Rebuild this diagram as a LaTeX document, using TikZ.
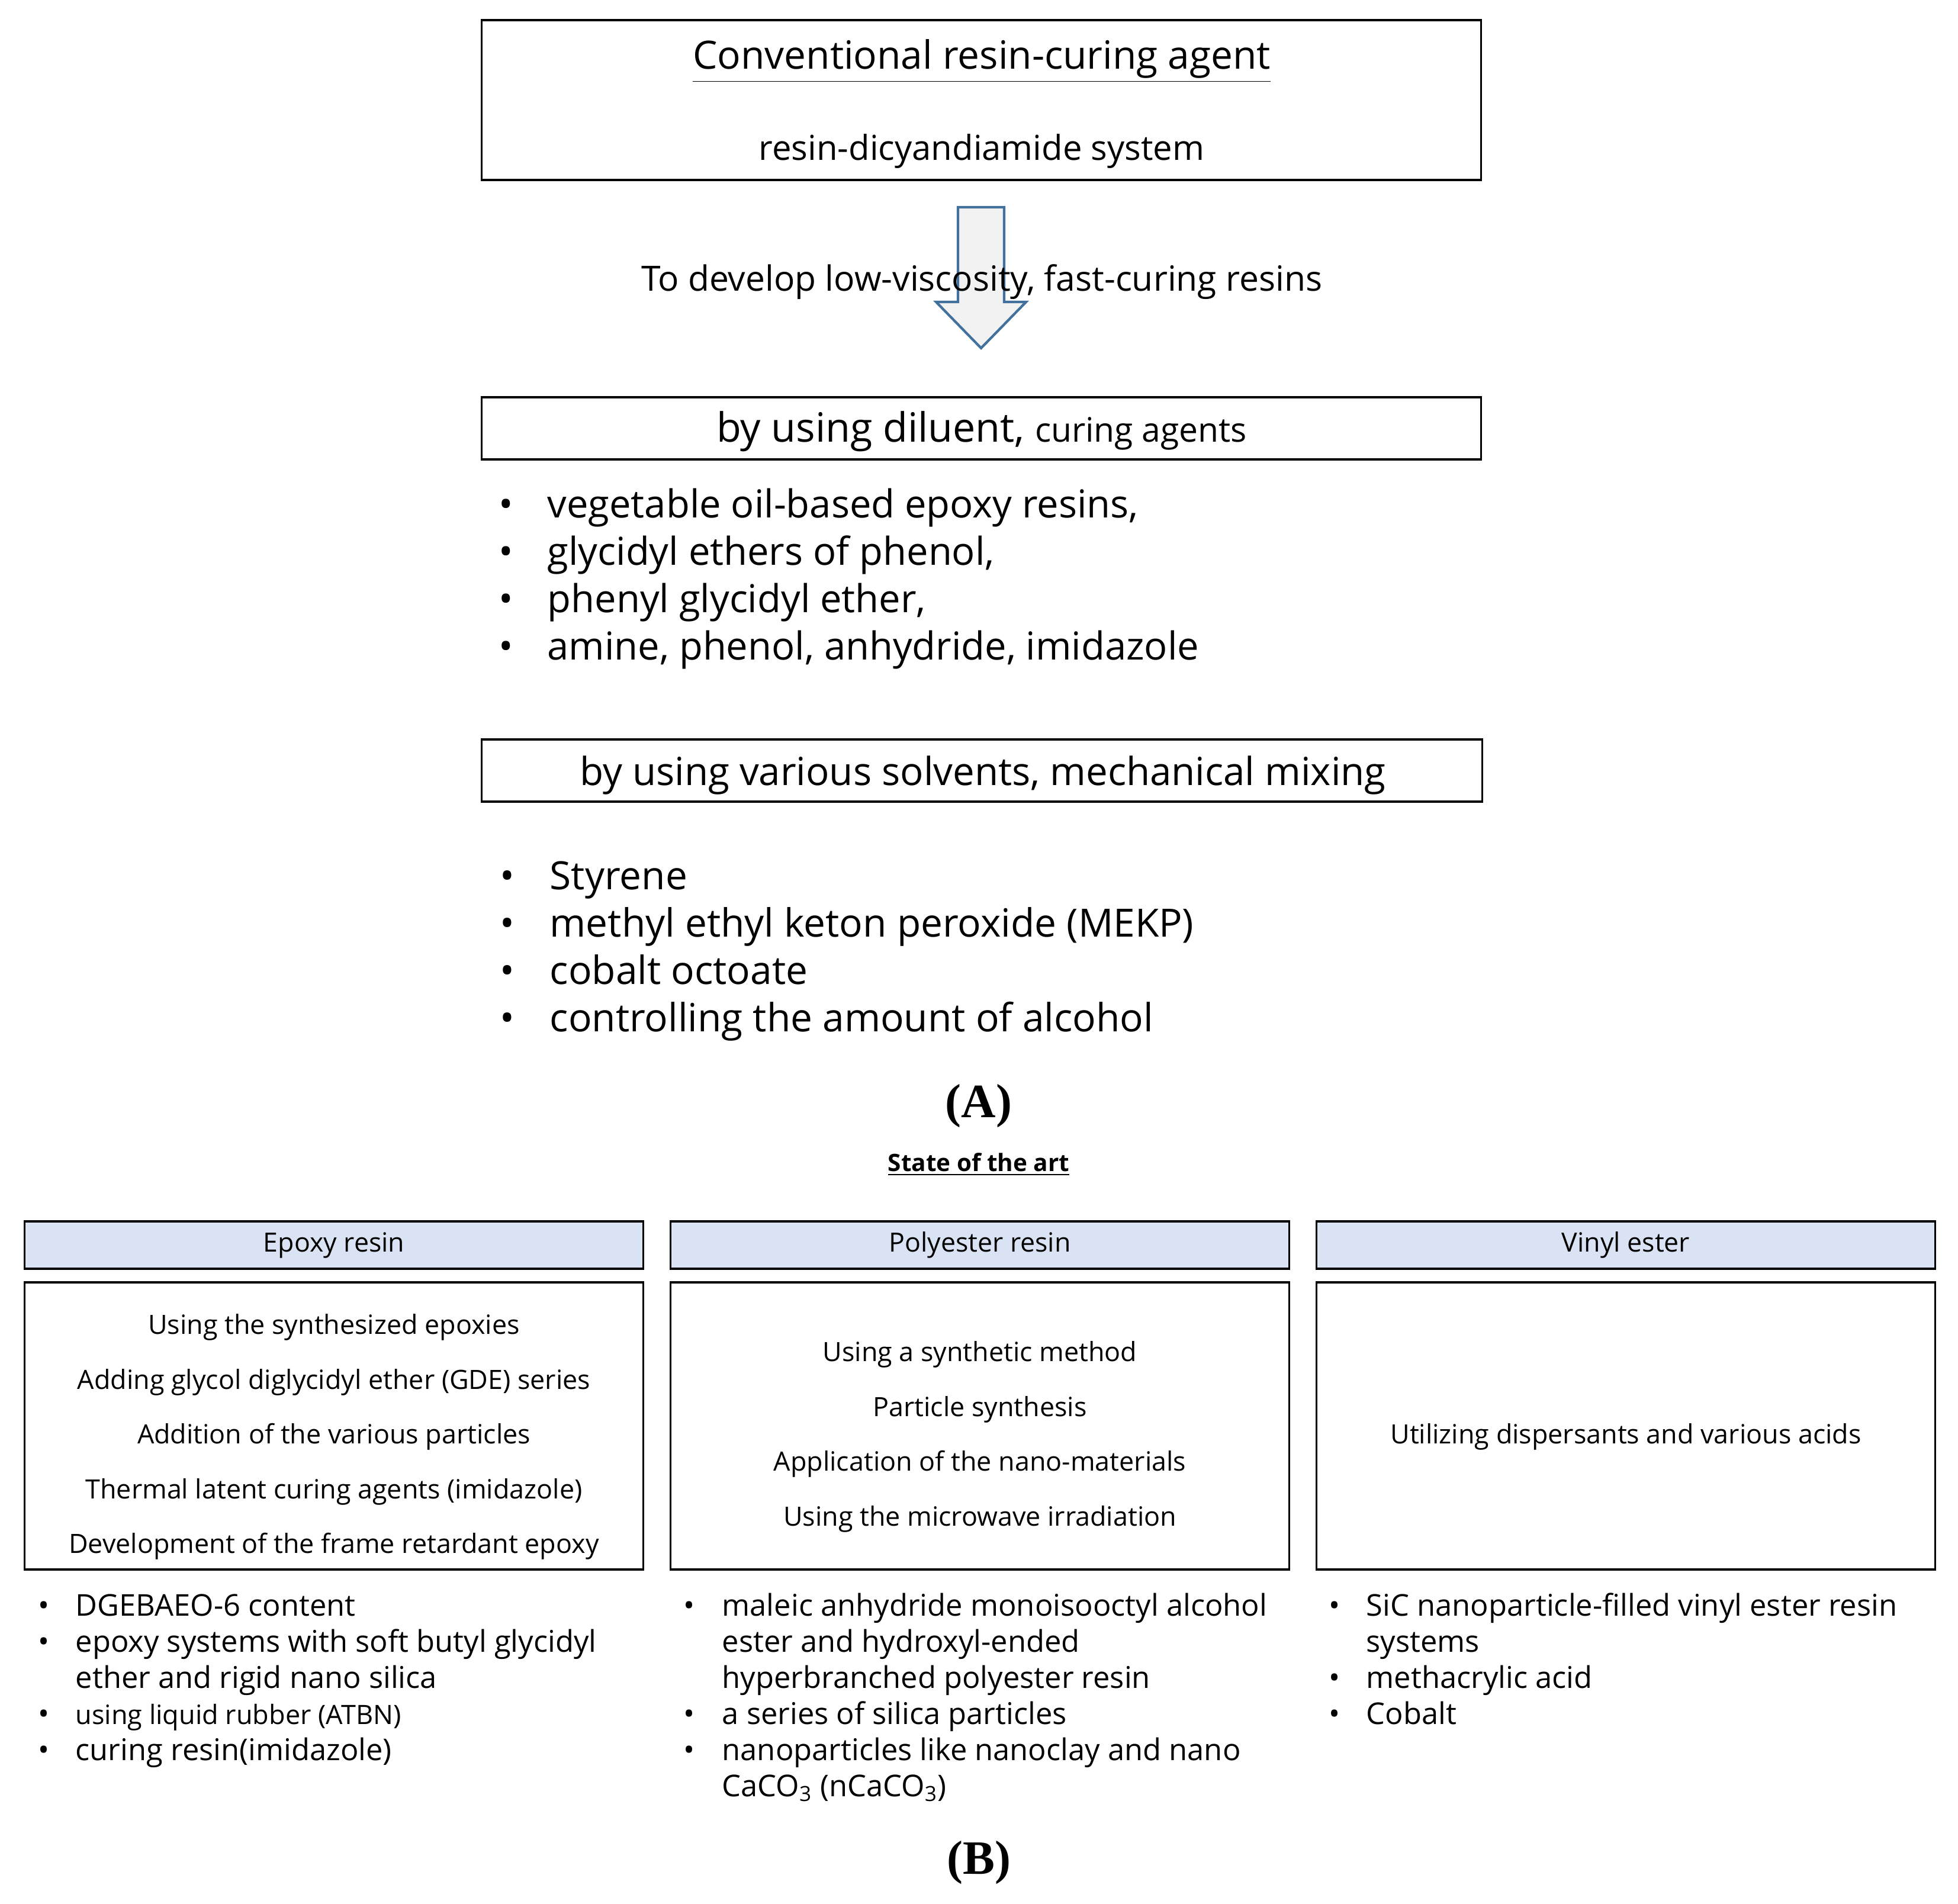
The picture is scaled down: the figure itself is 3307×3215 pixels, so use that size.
\documentclass[tikz,border=0pt]{standalone}
\usepackage{fontspec}
\setmainfont{Open Sans}
\newfontfamily\capserif{Liberation Serif}
\definecolor{hdrblue}{HTML}{DAE3F3}
\definecolor{arrowblue}{HTML}{41719C}
\definecolor{arrowfill}{HTML}{F2F2F2}
\newcommand{\fsz}[2]{\fontsize{#1}{#2}\selectfont}
\newcommand{\bl}{\textbullet}
\begin{document}
\begin{tikzpicture}[x=0.01cm,y=-0.01cm,
  box/.style={draw=black,line width=1pt,inner sep=0pt,outer sep=0pt},
  hdr/.style={box,fill=hdrblue,minimum width=10.44cm,minimum height=0.80cm,font=\fsz{12.7}{15}},
  cbox/.style={box,minimum width=10.44cm,minimum height=4.85cm},
  ctext/.style={align=center,inner sep=0pt,font=\fsz{12.75}{26.3}},
  blist/.style={anchor=base west,inner sep=0pt,align=left},
  plain/.style={inner sep=0pt}
]
\useasboundingbox (0,0) rectangle (3307,3215);
% ---------- (A) ----------
\node[box,minimum width=16.87cm,minimum height=2.70cm] (conv) at (1657.5,169) {};
\node[plain,font=\fsz{18.7}{22}] (convt) at (1658,103) {\underline{Conventional resin-curing agent}};
\node[plain,font=\fsz{16.5}{20}] (dicy) at (1658,255) {resin-dicyandiamide system};
% block arrow
\coordinate (ar) at (1657,350);
\draw[arrowblue,line width=1.2pt,fill=arrowfill,line join=miter]
  ([shift={(-39,0)}]ar) -- ([shift={(39,0)}]ar) -- ([shift={(39,160)}]ar) -- ([shift={(76,160)}]ar)
  -- ([shift={(0,238)}]ar) -- ([shift={(-76,160)}]ar) -- ([shift={(-39,160)}]ar) -- cycle;
\node[plain,font=\fsz{16.7}{20}] (goal) at (1658,476) {To develop low-viscosity, fast-curing resins};
\node[box,minimum width=16.87cm,minimum height=1.05cm] (dil) at (1657.5,723.5) {};
\node[plain] (dilt) at (1658,729) {\fsz{19.4}{22}by using diluent, \fsz{16.2}{20}curing agents};
\node[blist,font=\fsz{18.5}{22.76}] (list1) at (842,874) {\begin{tabular}[t]{@{}p{0.82cm}@{}l@{}}
\bl & vegetable oil-based epoxy resins,\\
\bl & glycidyl ethers of phenol,\\
\bl & phenyl glycidyl ether,\\
\bl & amine, phenol, anhydride, imidazole
\end{tabular}};
\node[box,minimum width=16.89cm,minimum height=1.05cm] (solv) at (1658.5,1301.5) {};
\node[plain,font=\fsz{18.6}{22}] (solvt) at (1660,1309) {by using various solvents, mechanical mixing};
\node[blist,font=\fsz{18.7}{22.76}] (list2) at (844,1502) {\begin{tabular}[t]{@{}p{0.84cm}@{}l@{}}
\bl & Styrene\\
\bl & methyl ethyl keton peroxide (MEKP)\\
\bl & cobalt octoate\\
\bl & controlling the amount of alcohol
\end{tabular}};
\node[plain,font=\capserif\bfseries\fsz{23}{26}] (labA) at (1653,1868) {(A)};
% ---------- (B) ----------
\node[plain,font=\bfseries\fsz{11.5}{14}] (sota) at (1653,1967) {\underline{State of the art}};
\node[hdr] (h1) at (564,2103) {\raisebox{-2pt}{Epoxy resin}};
\node[hdr] (h2) at (1655,2103) {\raisebox{-2pt}{Polyester resin}};
\node[hdr] (h3) at (2746,2103) {\raisebox{-2pt}{Vinyl ester}};
\node[cbox] (c1) at (564,2408.5) {};
\node[cbox] (c2) at (1655,2408.5) {};
\node[cbox] (c3) at (2746,2408.5) {};
\node[ctext] (t1) at (564,2427) {Using the synthesized epoxies\\Adding glycol diglycidyl ether (GDE) series\\Addition of the various particles\\Thermal latent curing agents (imidazole)\\Development of the frame retardant epoxy};
\node[ctext] (t2) at (1655,2427) {Using a synthetic method\\Particle synthesis\\Application of the nano-materials\\Using the microwave irradiation};
\node[ctext] (t3) at (2746,2427) {Utilizing dispersants and various acids};
\node[blist,font=\fsz{14.4}{17.36}] (b1) at (64,2729) {\begin{tabular}[t]{@{}p{0.63cm}@{}l@{}}
\bl & DGEBAEO-6 content\\
\bl & epoxy systems with soft butyl glycidyl\\
 & ether and rigid nano silica\\
\bl & {\fsz{12.8}{17.36}using liquid rubber (ATBN)}\\
\bl & curing resin(imidazole)
\end{tabular}};
\node[blist,font=\fsz{14.4}{17.36}] (b2) at (1154,2729) {\begin{tabular}[t]{@{}p{0.65cm}@{}l@{}}
\bl & maleic anhydride monoisooctyl alcohol\\
 & ester and hydroxyl-ended\\
 & hyperbranched polyester resin\\
\bl & a series of silica particles\\
\bl & nanoparticles like nanoclay and nano\\
 & CaCO\textsubscript{3} (nCaCO\textsubscript{3})
\end{tabular}};
\node[blist,font=\fsz{14.4}{17.36}] (b3) at (2244,2729) {\begin{tabular}[t]{@{}p{0.63cm}@{}l@{}}
\bl & SiC nanoparticle-filled vinyl ester resin\\
 & systems\\
\bl & methacrylic acid\\
\bl & Cobalt
\end{tabular}};
\node[plain,font=\capserif\bfseries\fsz{23}{26}] (labB) at (1653,3146) {(B)};
\end{tikzpicture}
\end{document}
